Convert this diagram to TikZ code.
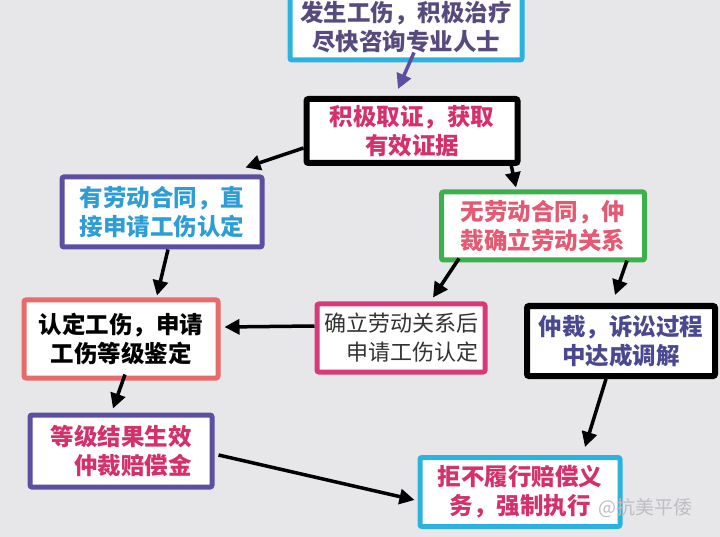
\documentclass[tikz,border=0pt]{standalone}
\usepackage{fontspec}
\newfontfamily\cjk{Noto Sans CJK SC}
\usetikzlibrary{arrows.meta,calc}
\definecolor{bg}{HTML}{E7E7EA}
\definecolor{cyanb}{HTML}{2BB3E0}
\definecolor{purb}{HTML}{5B4FA0}
\definecolor{greenb}{HTML}{3BB04C}
\definecolor{salb}{HTML}{E86A6A}
\definecolor{magb}{HTML}{D63A78}
\definecolor{tpurple}{HTML}{574A7E}
\definecolor{tpink}{HTML}{D4306C}
\definecolor{tcyan}{HTML}{2E9DD6}
\definecolor{tred}{HTML}{E45A72}
\definecolor{tdark}{HTML}{333333}
\definecolor{tblue}{HTML}{4A4890}
\definecolor{wmark}{HTML}{BEBEC4}
\tikzset{
  box/.style={draw, fill=white, line width=5pt, rounded corners=2pt, align=center,
    inner sep=0pt, font=\cjk\bfseries\fontsize{23.5}{29}\selectfont},
  arr/.style={line width=3.5pt, -{Triangle[length=15pt,width=15pt]}},
}
\begin{document}
\begin{tikzpicture}[x=1pt,y=-1pt]
\fill[bg] (0,0) rectangle (720,537);
\useasboundingbox (0,0) rectangle (720,537);

\node[box, draw=cyanb, text=tpurple, minimum width=232pt, minimum height=66pt] (b1) at (406,27)
  {发生工伤，积极治疗\\尽快咨询专业人士};
\node[box, draw=black, line width=6pt, text=tpink, minimum width=211pt, minimum height=64pt] (b2) at (412,131)
  {积极取证，获取\\有效证据};
\node[box, draw=purb, text=tcyan, minimum width=200pt, minimum height=70pt] (b3) at (162,212)
  {有劳动合同，直\\接申请工伤认定};
\node[box, draw=greenb, text=tred, minimum width=203pt, minimum height=68pt] (b4) at (543,226)
  {无劳动合同，仲\\裁确立劳动关系};
\node[box, draw=salb, text=black, minimum width=194pt, minimum height=78pt] (b5) at (121,339)
  {认定工伤，申请\\工伤等级鉴定};
\node[box, draw=magb, text=tdark, align=right, font=\cjk\fontsize{22}{29}\selectfont,
  minimum width=168pt, minimum height=68pt] (b6) at (401,338)
  {确立劳动关系后\\申请工伤认定};
\node[box, draw=black, line width=6pt, text=tblue, minimum width=188pt, minimum height=70pt] (b7) at (621,341)
  {仲裁，诉讼过程\\中达成调解};
\node[box, draw=purb, text=tpink, align=right, minimum width=182pt, minimum height=72pt] (b8) at (121,451)
  {等级结果生效\\仲裁赔偿金};
\node[box, draw=cyanb, text=tpink, minimum width=200pt, minimum height=69pt] (b9) at (520,492)
  {拒不履行赔偿义\\务，强制执行};

\node[text=wmark, font=\cjk\fontsize{19}{22}\selectfont, anchor=west, inner sep=0pt] (wm) at (598,508) {@抗美平倭};

\draw[arr, purb] ([xshift=8pt,yshift=10pt]b1.south) -- ([xshift=-14pt,yshift=7pt]b2.north);
\draw[arr] ([yshift=-17pt]b2.west) -- ([xshift=-19pt,yshift=7pt]b3.north east);
\draw[arr] ([xshift=-10pt,yshift=4pt]b2.south east) -- ([xshift=-27pt,yshift=2pt]b4.north);
\draw[arr] ([xshift=6pt]b3.south) -- ([xshift=36pt,yshift=2pt]b5.north);
\draw[arr] ([xshift=20pt,yshift=4pt]b4.south west) -- ([xshift=32pt,yshift=4pt]b6.north);
\draw[arr] ([xshift=-20pt,yshift=2pt]b4.south east) -- ([xshift=-6pt,yshift=8pt]b7.north);
\draw[arr] ([yshift=12pt]b6.west) -- ([xshift=4pt,yshift=12pt]b5.east);
\draw[arr] ([xshift=4pt,yshift=6pt]b5.south) -- ([xshift=-8pt,yshift=4pt]b8.north);
\draw[arr] ([xshift=-15pt]b7.south) -- ([xshift=65pt,yshift=8pt]b9.north);
\draw[arr] ([xshift=4pt,yshift=-4pt]b8.east) -- ([xshift=-3pt,yshift=-8pt]b9.west);
\end{tikzpicture}
\end{document}
